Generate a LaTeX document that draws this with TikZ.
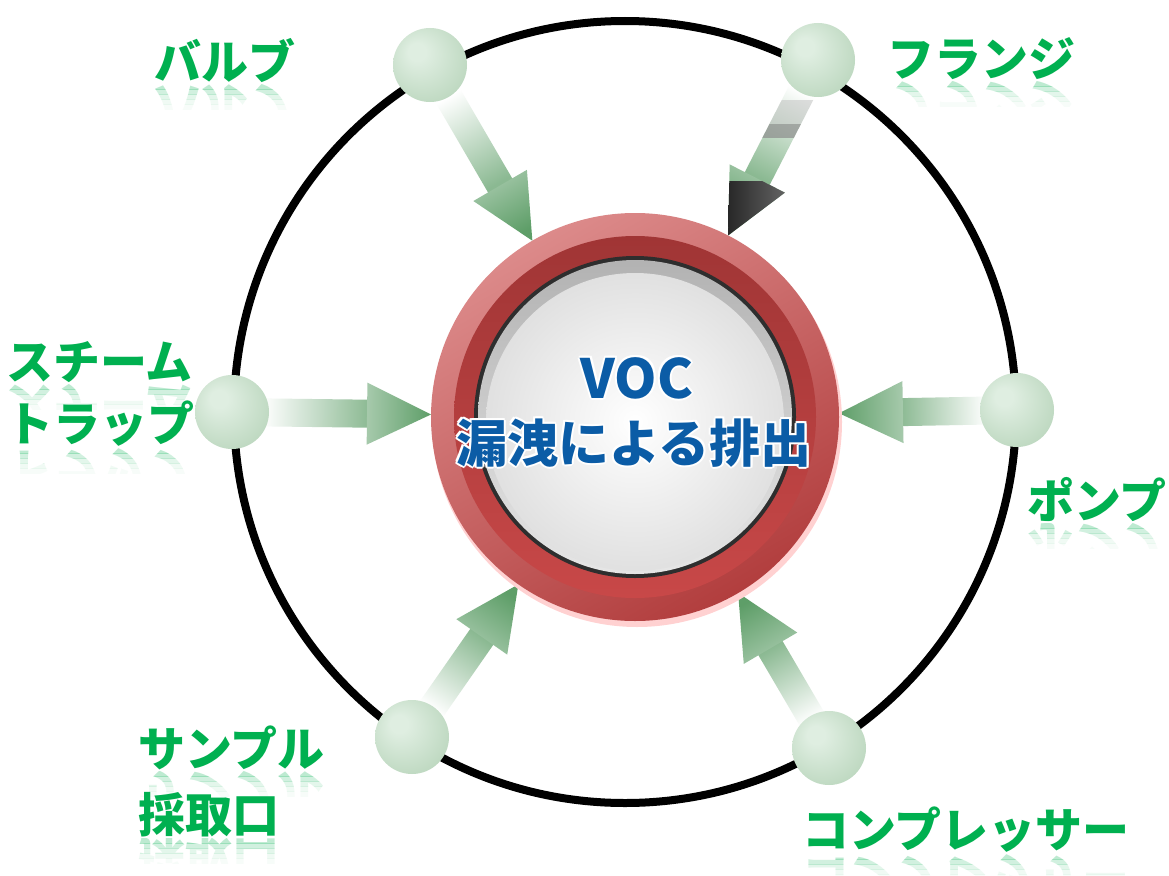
\documentclass[tikz,border=0pt]{standalone}
\usepackage{fontspec}
\newfontfamily\jp{Noto Sans CJK JP}
\usetikzlibrary{calc}
\definecolor{lblgreen}{HTML}{00B050}
\definecolor{vocblue}{HTML}{0B5CA6}
\definecolor{sphhi}{HTML}{DFEEE1}
\definecolor{sphedge}{HTML}{A2C6A5}
\definecolor{arrgreen}{HTML}{5E9E68}
\definecolor{ringlt}{HTML}{DC8A8A}
\definecolor{ringdk}{HTML}{B23E3E}
\definecolor{bandtop}{HTML}{A03535}
\definecolor{bandbot}{HTML}{C84848}
\pgfdeclareradialshading{sph}{\pgfpoint{-10bp}{10bp}}{color(0bp)=(sphhi); color(6bp)=(sphhi); color(38bp)=(sphedge!70!sphhi); color(50bp)=(sphedge)}
\pgfdeclarelayer{back}
\pgfdeclarelayer{bg}
\pgfsetlayers{back,bg,main}
\tikzset{
  sphere/.style={circle, minimum size=74pt, inner sep=0pt, shading=sph},
  hub/.style={circle, minimum size=408pt, inner sep=0pt},
  lbl/.style={font=\jp\bfseries\fontsize{47}{52}\selectfont, text=lblgreen, inner sep=0pt},
  ctext/.style={font=\jp\bfseries\fontsize{54}{58}\selectfont, text=vocblue, inner sep=0pt},
  ctextb/.style={font=\jp\bfseries\fontsize{51}{56}\selectfont, text=vocblue, inner sep=0pt},
  shaftshade/.style={top color=arrgreen!72!white, bottom color=white},
  headshade/.style={top color=arrgreen, bottom color=arrgreen!55!white},
}
\newcommand\flowarrow[2]{%
  \coordinate (#1-t) at ($(#1)!30pt!(c)$);
  \coordinate (#1-p) at ($(c)!204pt!(#1)$);
  \coordinate (#1-n) at ($(#1-p)!64pt!(#1-t)$);
  \coordinate (#1-m) at ($(#1-p)!61pt!(#1-t)$);
  \coordinate (#1-a) at ($(#1-t)!14pt!90:(#1-p)$);
  \coordinate (#1-b) at ($(#1-t)!14pt!-90:(#1-p)$);
  \coordinate (#1-na) at ($(#1-m)!14pt!90:(#1-p)$);
  \coordinate (#1-nb) at ($(#1-m)!14pt!-90:(#1-p)$);
  \coordinate (#1-ha) at ($(#1-n)!31pt!90:(#1-p)$);
  \coordinate (#1-hb) at ($(#1-n)!31pt!-90:(#1-p)$);
  \shade[shaftshade, shading angle=#2] (#1-a) -- (#1-na) -- (#1-nb) -- (#1-b) -- cycle;
  \shade[headshade, shading angle=#2] (#1-ha) -- (#1-p) -- (#1-hb) -- cycle;
}
\newcommand\glabel[5]{%
  \node[lbl, anchor=#4] (#1) at (#2,#3) {#5};
  \foreach \k/\op in {0/.26,1/.18,2/.11,3/.06,4/.03}{
    \begin{scope}
      \clip (#2-400,#3+1+5*\k) rectangle (#2+400,#3+6+5*\k);
      \node[lbl, anchor=#4, yscale=-1, opacity=\op] (#1-r\k) at (#2,#3+1) {#5};
    \end{scope}}%
}
\begin{document}
\begin{tikzpicture}[x=1pt,y=-1pt]
\begin{pgfonlayer}{back}
  \fill[white] (0,0) rectangle (1169,875);
\end{pgfonlayer}
\useasboundingbox (0,0) rectangle (1169,875);
% hub and spheres
\node[hub] (c) at (635,417) {};
\node[sphere] (valve)  at (430,65)  {};
\node[sphere] (flange) at (818,60)  {};
\node[sphere] (steam)  at (232,412) {};
\node[sphere] (pump)   at (1017,410) {};
\node[sphere] (sample) at (412,737) {};
\node[sphere] (comp)   at (829,748) {};
\begin{pgfonlayer}{bg}
  \draw[line width=8pt] (625,412) circle[radius=391];
  \flowarrow{valve}{-149.8}
  \flowarrow{flange}{152.9}
  \flowarrow{steam}{-90.7}
  \flowarrow{pump}{91.1}
  \flowarrow{sample}{-34.9}
  \flowarrow{comp}{30.4}
  % dark head on the flange arrow
  \begin{scope}
    \clip (flange-ha) -- (flange-p) -- (flange-hb) -- cycle;
    \shade[left color=black, right color=black!55] (690,181) rectangle (800,240);
  \end{scope}
  \begin{scope}
    \clip (flange-a) -- (flange-na) -- (flange-nb) -- (flange-b) -- cycle;
    \fill[black!45, opacity=.7] (700,124) rectangle (850,138);
    \fill[black!25, opacity=.5] (700,100) rectangle (850,124);
  \end{scope}
\end{pgfonlayer}
% central disc
\fill[red!18] ($(c)+(2,5)$) circle[radius=205];
\shade[top color=ringlt, bottom color=ringdk, shading angle=30] (c) circle[radius=204];
\shade[top color=bandtop, bottom color=bandbot] (c) circle[radius=181];
\fill[black!82] (c) circle[radius=161];
\shade[top color=black!30!white, bottom color=black!10!white] (c) circle[radius=157];
\shade[inner color=white, outer color=black!12!white] ($(c)+(0,5)$) circle[radius=149];
% centre text with white halo
\foreach \dx/\dy [count=\i] in {2/0,-2/0,0/2,0/-2,1.5/1.5,-1.5/1.5,1.5/-1.5,-1.5/-1.5}{
  \node[ctext, text=white] (vochalo\i) at (637+\dx,378+\dy) {VOC};
  \node[ctextb, text=white] (leakhalo\i) at (634+\dx,443+\dy) {漏洩による排出};
}
\node[ctext] (voc) at (637,378) {VOC};
\node[ctextb] (leak) at (634,443) {漏洩による排出};
% labels
\glabel{lvalve}{225}{83}{south}{バルブ}
\glabel{lflange}{981}{80}{south}{フランジ}
\glabel{lsteamA}{6}{383}{south west}{スチーム}
\glabel{lsteamB}{6}{447}{south west}{トラップ}
\glabel{lpump}{1097}{522}{south}{ポンプ}
\glabel{lsampleA}{138}{770}{south west}{サンプル}
\glabel{lsampleB}{138}{837}{south west}{採取口}
\glabel{lcomp}{966}{853}{south}{コンプレッサー}
\end{tikzpicture}
\end{document}
